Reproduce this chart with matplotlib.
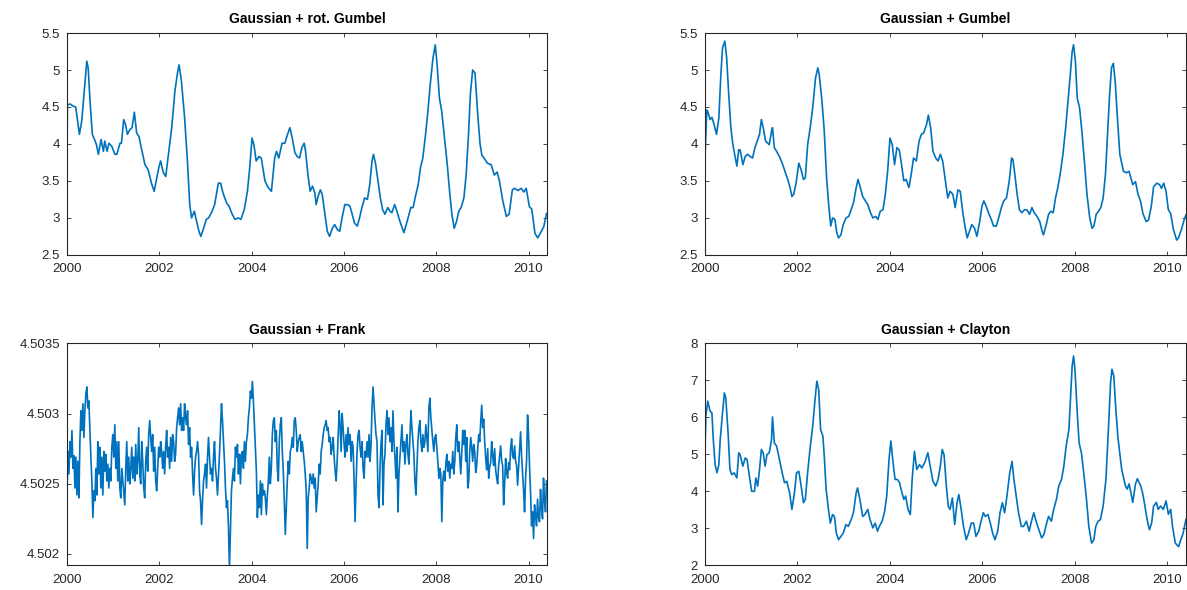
import numpy as np
import matplotlib
matplotlib.use("Agg")
import matplotlib.pyplot as plt
from matplotlib.ticker import FuncFormatter

# 读取自原图的数据 (年份, 数值)
rg_years = [2000.00, 2000.01, 2000.07, 2000.14, 2000.19, 2000.25, 2000.27, 2000.32, 2000.38, 2000.43,
            2000.46, 2000.50, 2000.55, 2000.61, 2000.64, 2000.68, 2000.74, 2000.79, 2000.82, 2000.87,
            2000.91, 2000.97, 2001.04, 2001.08, 2001.15, 2001.18, 2001.23, 2001.27, 2001.31, 2001.36,
            2001.41, 2001.46, 2001.51, 2001.56, 2001.62, 2001.69, 2001.76, 2001.83, 2001.89, 2001.94,
            2001.99, 2002.03, 2002.09, 2002.14, 2002.19, 2002.27, 2002.34, 2002.40, 2002.43, 2002.48,
            2002.55, 2002.61, 2002.66, 2002.70, 2002.76, 2002.81, 2002.86, 2002.90, 2002.95, 2003.02,
            2003.07, 2003.13, 2003.20, 2003.28, 2003.33, 2003.38, 2003.46, 2003.51, 2003.58, 2003.64,
            2003.71, 2003.77, 2003.84, 2003.91, 2003.96, 2004.01, 2004.05, 2004.10, 2004.16, 2004.21,
            2004.29, 2004.36, 2004.43, 2004.50, 2004.54, 2004.59, 2004.66, 2004.72, 2004.78, 2004.83,
            2004.88, 2004.94, 2004.99, 2005.04, 2005.09, 2005.14, 2005.17, 2005.22, 2005.27, 2005.32,
            2005.37, 2005.40, 2005.44, 2005.49, 2005.53, 2005.59, 2005.64, 2005.69, 2005.75, 2005.80,
            2005.86, 2005.91, 2005.96, 2006.02, 2006.08, 2006.13, 2006.18, 2006.23, 2006.29, 2006.34,
            2006.39, 2006.45, 2006.51, 2006.56, 2006.61, 2006.64, 2006.69, 2006.74, 2006.79, 2006.84,
            2006.89, 2006.95, 2007.00, 2007.04, 2007.10, 2007.15, 2007.20, 2007.25, 2007.30, 2007.35,
            2007.40, 2007.45, 2007.50, 2007.55, 2007.61, 2007.66, 2007.71, 2007.77, 2007.82, 2007.87,
            2007.93, 2007.98, 2008.02, 2008.07, 2008.12, 2008.18, 2008.24, 2008.29, 2008.34, 2008.39,
            2008.44, 2008.49, 2008.54, 2008.60, 2008.65, 2008.70, 2008.74, 2008.79, 2008.84, 2008.90,
            2008.95, 2008.99, 2009.11, 2009.19, 2009.26, 2009.32, 2009.37, 2009.44, 2009.52, 2009.58,
            2009.65, 2009.70, 2009.77, 2009.84, 2009.90, 2009.95, 2010.02, 2010.07, 2010.14, 2010.20,
            2010.26, 2010.33, 2010.39]
rg_values = [3.72, 4.53, 4.54, 4.51, 4.50, 4.22, 4.13, 4.31, 4.76, 5.12,
             5.03, 4.58, 4.13, 4.04, 3.99, 3.86, 4.06, 3.90, 4.04, 3.90,
             4.01, 3.97, 3.86, 3.86, 4.01, 4.01, 4.33, 4.26, 4.13, 4.19,
             4.22, 4.43, 4.15, 4.10, 3.92, 3.72, 3.65, 3.47, 3.36, 3.52,
             3.68, 3.77, 3.61, 3.56, 3.81, 4.22, 4.72, 4.98, 5.07, 4.85,
             4.35, 3.77, 3.18, 3.00, 3.09, 2.95, 2.82, 2.75, 2.84, 2.98,
             3.00, 3.07, 3.18, 3.47, 3.47, 3.34, 3.20, 3.16, 3.05, 2.98,
             3.00, 2.98, 3.11, 3.36, 3.68, 4.08, 3.99, 3.77, 3.83, 3.81,
             3.50, 3.41, 3.36, 3.81, 3.90, 3.81, 4.01, 4.01, 4.13, 4.22,
             4.08, 3.88, 3.83, 3.81, 3.95, 4.01, 3.90, 3.59, 3.36, 3.43,
             3.34, 3.18, 3.29, 3.38, 3.32, 3.05, 2.82, 2.75, 2.86, 2.91,
             2.84, 2.82, 3.00, 3.18, 3.18, 3.16, 3.05, 2.93, 2.89, 3.00,
             3.14, 3.27, 3.25, 3.45, 3.77, 3.86, 3.72, 3.50, 3.27, 3.11,
             3.05, 3.14, 3.09, 3.07, 3.18, 3.09, 2.98, 2.89, 2.80, 2.91,
             3.02, 3.14, 3.14, 3.29, 3.45, 3.68, 3.81, 4.13, 4.44, 4.80,
             5.16, 5.34, 5.07, 4.62, 4.44, 4.08, 3.72, 3.36, 3.05, 2.86,
             2.95, 3.09, 3.14, 3.27, 3.59, 4.13, 4.67, 5.00, 4.96, 4.40,
             4.00, 3.85, 3.74, 3.72, 3.58, 3.62, 3.50, 3.24, 3.02, 3.05,
             3.38, 3.40, 3.37, 3.40, 3.35, 3.40, 3.15, 3.12, 2.79, 2.73,
             2.80, 2.88, 3.06]

g_years = [2000.00, 2000.04, 2000.06, 2000.11, 2000.15, 2000.19, 2000.25, 2000.30, 2000.34, 2000.38,
           2000.43, 2000.47, 2000.51, 2000.56, 2000.60, 2000.63, 2000.69, 2000.73, 2000.76, 2000.82,
           2000.87, 2000.92, 2000.98, 2001.03, 2001.08, 2001.13, 2001.18, 2001.22, 2001.26, 2001.31,
           2001.36, 2001.39, 2001.44, 2001.46, 2001.50, 2001.55, 2001.61, 2001.67, 2001.72, 2001.79,
           2001.84, 2001.88, 2001.92, 2001.97, 2002.03, 2002.08, 2002.13, 2002.17, 2002.22, 2002.28,
           2002.33, 2002.39, 2002.44, 2002.47, 2002.53, 2002.58, 2002.63, 2002.68, 2002.72, 2002.76,
           2002.81, 2002.85, 2002.89, 2002.94, 2002.99, 2003.05, 2003.11, 2003.16, 2003.21, 2003.27,
           2003.31, 2003.36, 2003.41, 2003.47, 2003.52, 2003.58, 2003.63, 2003.69, 2003.74, 2003.79,
           2003.85, 2003.90, 2003.95, 2004.00, 2004.05, 2004.10, 2004.15, 2004.20, 2004.24, 2004.30,
           2004.35, 2004.41, 2004.46, 2004.51, 2004.57, 2004.63, 2004.68, 2004.73, 2004.79, 2004.83,
           2004.88, 2004.93, 2004.99, 2005.04, 2005.09, 2005.14, 2005.19, 2005.25, 2005.30, 2005.36,
           2005.41, 2005.47, 2005.52, 2005.58, 2005.63, 2005.67, 2005.72, 2005.77, 2005.83, 2005.88,
           2005.94, 2005.99, 2006.03, 2006.08, 2006.13, 2006.19, 2006.24, 2006.30, 2006.35, 2006.41,
           2006.46, 2006.52, 2006.58, 2006.63, 2006.66, 2006.70, 2006.75, 2006.80, 2006.85, 2006.91,
           2006.96, 2007.02, 2007.07, 2007.12, 2007.18, 2007.24, 2007.29, 2007.32, 2007.38, 2007.43,
           2007.48, 2007.53, 2007.58, 2007.63, 2007.69, 2007.74, 2007.80, 2007.85, 2007.90, 2007.94,
           2007.97, 2008.01, 2008.05, 2008.10, 2008.15, 2008.21, 2008.26, 2008.32, 2008.37, 2008.41,
           2008.46, 2008.51, 2008.56, 2008.61, 2008.66, 2008.70, 2008.75, 2008.79, 2008.83, 2008.87,
           2008.91, 2008.97, 2009.05, 2009.11, 2009.17, 2009.21, 2009.25, 2009.31, 2009.36, 2009.42,
           2009.47, 2009.54, 2009.59, 2009.65, 2009.70, 2009.77, 2009.83, 2009.87, 2009.92, 2009.97,
           2010.02, 2010.07, 2010.13, 2010.20, 2010.24, 2010.30, 2010.36, 2010.40]
g_values = [3.80, 4.46, 4.44, 4.33, 4.36, 4.28, 4.13, 4.35, 4.89, 5.30,
            5.39, 5.16, 4.71, 4.22, 4.01, 3.90, 3.70, 3.92, 3.92, 3.72,
            3.83, 3.86, 3.83, 3.81, 3.95, 4.04, 4.13, 4.33, 4.22, 4.04,
            4.01, 3.99, 4.17, 4.22, 3.95, 3.90, 3.83, 3.74, 3.65, 3.52,
            3.41, 3.29, 3.32, 3.47, 3.74, 3.65, 3.52, 3.54, 3.99, 4.24,
            4.49, 4.89, 5.03, 4.94, 4.58, 4.17, 3.54, 3.14, 2.89, 3.00,
            2.98, 2.80, 2.73, 2.77, 2.91, 3.00, 3.02, 3.11, 3.20, 3.41,
            3.52, 3.41, 3.29, 3.23, 3.18, 3.07, 3.00, 3.02, 2.98, 3.09,
            3.11, 3.32, 3.63, 4.08, 3.99, 3.72, 3.95, 3.92, 3.77, 3.50,
            3.52, 3.41, 3.59, 3.81, 3.77, 4.04, 4.13, 4.15, 4.26, 4.39,
            4.22, 3.90, 3.81, 3.77, 3.86, 3.77, 3.54, 3.27, 3.36, 3.32,
            3.14, 3.38, 3.36, 3.05, 2.86, 2.73, 2.82, 2.91, 2.86, 2.75,
            2.95, 3.16, 3.23, 3.16, 3.07, 2.98, 2.89, 2.89, 3.00, 3.14,
            3.23, 3.27, 3.50, 3.81, 3.79, 3.59, 3.32, 3.11, 3.07, 3.11,
            3.11, 3.05, 3.14, 3.07, 3.02, 2.95, 2.82, 2.77, 2.91, 3.05,
            3.09, 3.07, 3.27, 3.41, 3.63, 3.86, 4.22, 4.58, 4.94, 5.25,
            5.34, 5.12, 4.62, 4.49, 4.17, 3.72, 3.32, 3.00, 2.86, 2.89,
            3.05, 3.09, 3.14, 3.27, 3.59, 4.08, 4.67, 5.03, 5.09, 4.85,
            4.44, 3.86, 3.63, 3.61, 3.63, 3.54, 3.45, 3.49, 3.33, 3.22,
            3.06, 2.95, 2.97, 3.15, 3.42, 3.47, 3.45, 3.40, 3.47, 3.36,
            3.11, 3.06, 2.84, 2.70, 2.73, 2.84, 2.97, 3.04]

c_years = [2000.00, 2000.02, 2000.06, 2000.11, 2000.15, 2000.18, 2000.22, 2000.26, 2000.30, 2000.33,
           2000.38, 2000.42, 2000.45, 2000.50, 2000.54, 2000.58, 2000.63, 2000.69, 2000.73, 2000.76,
           2000.82, 2000.87, 2000.91, 2000.96, 2001.01, 2001.07, 2001.10, 2001.14, 2001.18, 2001.22,
           2001.26, 2001.30, 2001.34, 2001.39, 2001.44, 2001.46, 2001.50, 2001.55, 2001.61, 2001.67,
           2001.72, 2001.77, 2001.83, 2001.88, 2001.93, 2001.98, 2002.03, 2002.08, 2002.13, 2002.17,
           2002.22, 2002.27, 2002.33, 2002.38, 2002.42, 2002.46, 2002.50, 2002.55, 2002.58, 2002.62,
           2002.67, 2002.71, 2002.76, 2002.80, 2002.84, 2002.89, 2002.94, 2002.99, 2003.05, 2003.10,
           2003.16, 2003.21, 2003.27, 2003.30, 2003.35, 2003.41, 2003.46, 2003.52, 2003.57, 2003.63,
           2003.68, 2003.73, 2003.77, 2003.83, 2003.88, 2003.93, 2003.98, 2004.02, 2004.06, 2004.11,
           2004.16, 2004.21, 2004.24, 2004.30, 2004.34, 2004.39, 2004.44, 2004.48, 2004.53, 2004.58,
           2004.64, 2004.69, 2004.75, 2004.82, 2004.87, 2004.93, 2004.99, 2005.04, 2005.09, 2005.13,
           2005.17, 2005.22, 2005.26, 2005.30, 2005.35, 2005.40, 2005.45, 2005.49, 2005.54, 2005.59,
           2005.65, 2005.70, 2005.76, 2005.81, 2005.86, 2005.92, 2005.97, 2006.02, 2006.06, 2006.12,
           2006.17, 2006.22, 2006.27, 2006.33, 2006.38, 2006.43, 2006.48, 2006.53, 2006.59, 2006.64,
           2006.68, 2006.73, 2006.78, 2006.84, 2006.89, 2006.95, 2007.01, 2007.06, 2007.11, 2007.16,
           2007.22, 2007.28, 2007.33, 2007.38, 2007.43, 2007.49, 2007.54, 2007.60, 2007.65, 2007.71,
           2007.76, 2007.81, 2007.87, 2007.91, 2007.94, 2007.97, 2008.00, 2008.05, 2008.09, 2008.14,
           2008.19, 2008.25, 2008.30, 2008.36, 2008.41, 2008.45, 2008.50, 2008.55, 2008.61, 2008.67,
           2008.72, 2008.77, 2008.80, 2008.84, 2008.88, 2008.93, 2009.01, 2009.09, 2009.13, 2009.17,
           2009.21, 2009.25, 2009.31, 2009.35, 2009.42, 2009.46, 2009.50, 2009.56, 2009.61, 2009.66,
           2009.70, 2009.76, 2009.80, 2009.85, 2009.91, 2009.97, 2010.02, 2010.07, 2010.11, 2010.17,
           2010.24, 2010.29, 2010.34, 2010.40]
c_values = [5.04, 6.03, 6.44, 6.17, 6.12, 5.40, 4.72, 4.50, 4.72, 5.40,
            6.12, 6.66, 6.53, 5.58, 4.59, 4.45, 4.50, 4.36, 5.04, 4.99,
            4.68, 4.90, 4.86, 4.41, 4.00, 4.00, 4.36, 4.14, 4.59, 5.13,
            5.04, 4.68, 4.99, 5.04, 5.40, 6.01, 5.31, 5.22, 4.86, 4.50,
            4.23, 4.27, 3.96, 3.51, 3.91, 4.50, 4.54, 4.14, 3.69, 3.78,
            4.50, 5.13, 5.76, 6.48, 6.98, 6.75, 5.67, 5.49, 4.95, 4.05,
            3.51, 3.14, 3.37, 3.32, 2.87, 2.69, 2.78, 2.87, 3.10, 3.05,
            3.23, 3.42, 3.96, 4.09, 3.78, 3.32, 3.37, 3.51, 3.23, 3.01,
            3.14, 2.92, 3.05, 3.19, 3.42, 3.87, 4.86, 5.36, 4.86, 4.32,
            4.32, 4.23, 4.05, 3.78, 3.87, 3.51, 3.37, 4.32, 5.08, 4.59,
            4.72, 4.63, 4.77, 5.04, 4.68, 4.27, 4.14, 4.32, 4.68, 5.13,
            4.99, 4.14, 3.60, 3.51, 3.82, 3.10, 3.69, 3.91, 3.51, 3.05,
            2.69, 2.87, 3.14, 3.14, 2.78, 2.92, 3.19, 3.42, 3.32, 3.37,
            3.14, 2.87, 2.69, 2.92, 3.42, 3.69, 3.42, 3.87, 4.50, 4.81,
            4.32, 3.87, 3.42, 3.05, 3.05, 3.19, 2.92, 3.19, 3.42, 3.19,
            2.96, 2.74, 2.83, 3.10, 3.32, 3.19, 3.51, 3.78, 4.14, 4.32,
            4.68, 5.22, 5.67, 6.66, 7.39, 7.66, 7.30, 6.12, 5.31, 5.04,
            4.50, 3.78, 3.05, 2.60, 2.69, 3.05, 3.19, 3.23, 3.60, 4.32,
            5.58, 6.93, 7.30, 7.12, 6.30, 5.45, 4.60, 4.15, 4.06, 4.20,
            3.97, 3.70, 4.20, 4.34, 4.15, 3.97, 3.70, 3.24, 2.96, 3.15,
            3.60, 3.70, 3.51, 3.60, 3.51, 3.74, 3.38, 3.51, 3.05, 2.60,
            2.50, 2.69, 2.87, 3.24]

# Frank 序列: 等间隔数据 (2000.0 - 2010.39)
frank_values = [
    4.50242, 4.50273, 4.50257, 4.50280, 4.50269, 4.50288, 4.50261, 4.50270, 4.50247, 4.50269,
    4.50242, 4.50266, 4.50240, 4.50280, 4.50302, 4.50288, 4.50307, 4.50283, 4.50302, 4.50314,
    4.50319, 4.50304, 4.50309, 4.50288, 4.50269, 4.50252, 4.50226, 4.50245, 4.50238, 4.50261,
    4.50242, 4.50280, 4.50257, 4.50276, 4.50247, 4.50269, 4.50242, 4.50273, 4.50259, 4.50271,
    4.50252, 4.50264, 4.50247, 4.50261, 4.50252, 4.50276, 4.50285, 4.50269, 4.50292, 4.50261,
    4.50280, 4.50252, 4.50280, 4.50247, 4.50240, 4.50261, 4.50252, 4.50242, 4.50235, 4.50261,
    4.50280, 4.50252, 4.50269, 4.50250, 4.50261, 4.50276, 4.50254, 4.50269, 4.50252, 4.50278,
    4.50257, 4.50266, 4.50290, 4.50257, 4.50250, 4.50280, 4.50266, 4.50247, 4.50240, 4.50266,
    4.50276, 4.50259, 4.50285, 4.50295, 4.50283, 4.50273, 4.50285, 4.50259, 4.50276, 4.50252,
    4.50245, 4.50261, 4.50276, 4.50269, 4.50280, 4.50273, 4.50261, 4.50273, 4.50257, 4.50276,
    4.50288, 4.50269, 4.50276, 4.50261, 4.50283, 4.50266, 4.50285, 4.50280, 4.50266, 4.50271,
    4.50290, 4.50297, 4.50304, 4.50292, 4.50307, 4.50288, 4.50297, 4.50288, 4.50307, 4.50297,
    4.50292, 4.50302, 4.50278, 4.50290, 4.50269, 4.50276, 4.50257, 4.50242, 4.50259, 4.50269,
    4.50273, 4.50280, 4.50271, 4.50245, 4.50238, 4.50221, 4.50238, 4.50252, 4.50257, 4.50264,
    4.50247, 4.50269, 4.50283, 4.50269, 4.50257, 4.50261, 4.50252, 4.50269, 4.50280, 4.50261,
    4.50254, 4.50242, 4.50257, 4.50271, 4.50290, 4.50307, 4.50295, 4.50280, 4.50266, 4.50247,
    4.50233, 4.50238, 4.50219, 4.50190, 4.50219, 4.50245, 4.50254, 4.50261, 4.50252, 4.50276,
    4.50269, 4.50278, 4.50257, 4.50271, 4.50250, 4.50271, 4.50273, 4.50261, 4.50280, 4.50266,
    4.50280, 4.50285, 4.50297, 4.50304, 4.50316, 4.50311, 4.50323, 4.50309, 4.50292, 4.50276,
    4.50259, 4.50226, 4.50242, 4.50233, 4.50252, 4.50228, 4.50250, 4.50242,
    4.50245, 4.50240, 4.50228, 4.50242, 4.50252, 4.50269, 4.50250, 4.50261, 4.50285, 4.50295,
    4.50297, 4.50280, 4.50288, 4.50261, 4.50252, 4.50280, 4.50292, 4.50297, 4.50273, 4.50259,
    4.50238, 4.50214, 4.50233, 4.50252, 4.50266, 4.50257, 4.50273, 4.50276, 4.50283, 4.50276,
    4.50295, 4.50297, 4.50288, 4.50273, 4.50280, 4.50283, 4.50285, 4.50273, 4.50280, 4.50273,
    4.50266, 4.50257, 4.50245, 4.50204, 4.50240, 4.50247, 4.50257, 4.50254, 4.50250, 4.50257,
    4.50247, 4.50254, 4.50230, 4.50240, 4.50250, 4.50264, 4.50257, 4.50273, 4.50278, 4.50285,
    4.50290, 4.50292, 4.50295, 4.50288, 4.50290, 4.50280, 4.50283, 4.50271, 4.50276, 4.50283,
    4.50269, 4.50259, 4.50252, 4.50266, 4.50283, 4.50302, 4.50292, 4.50273, 4.50300, 4.50290,
    4.50278, 4.50269, 4.50285, 4.50273, 4.50290, 4.50278, 4.50285, 4.50266, 4.50280, 4.50276,
    4.50252, 4.50223, 4.50250, 4.50273, 4.50285, 4.50288, 4.50276, 4.50269, 4.50280, 4.50261,
    4.50254, 4.50273, 4.50269, 4.50280, 4.50269, 4.50285, 4.50266, 4.50278, 4.50304, 4.50319,
    4.50307, 4.50295, 4.50285, 4.50280, 4.50242, 4.50233, 4.50261, 4.50278, 4.50288, 4.50235,
    4.50264, 4.50271, 4.50292, 4.50302, 4.50285, 4.50297, 4.50280, 4.50290, 4.50273, 4.50302,
    4.50280, 4.50269, 4.50254, 4.50276, 4.50230, 4.50257, 4.50269, 4.50280, 4.50292, 4.50273,
    4.50280, 4.50264, 4.50278, 4.50285, 4.50271, 4.50264, 4.50283, 4.50302, 4.50290, 4.50280,
    4.50271, 4.50252, 4.50242, 4.50261, 4.50280, 4.50290, 4.50295, 4.50280, 4.50273, 4.50285,
    4.50276, 4.50280, 4.50292, 4.50283, 4.50273, 4.50304, 4.50311, 4.50297, 4.50288, 4.50280,
    4.50273, 4.50283, 4.50285, 4.50276, 4.50266, 4.50254, 4.50261, 4.50257, 4.50223, 4.50252,
    4.50259, 4.50252, 4.50264, 4.50271, 4.50259, 4.50266, 4.50254, 4.50264, 4.50261, 4.50273,
    4.50257, 4.50266, 4.50283, 4.50292, 4.50273, 4.50280, 4.50269, 4.50257, 4.50273, 4.50288,
    4.50278, 4.50288, 4.50266, 4.50283, 4.50247, 4.50252, 4.50273, 4.50283, 4.50276, 4.50266,
    4.50278,
    4.50273, 4.50258, 4.50263, 4.50275, 4.50285, 4.50280, 4.50294, 4.50306, 4.50290, 4.50296,
    4.50280, 4.50268, 4.50260, 4.50275, 4.50254, 4.50262, 4.50265, 4.50280, 4.50270, 4.50263,
    4.50275, 4.50260, 4.50254, 4.50250, 4.50263, 4.50270, 4.50277, 4.50266, 4.50263, 4.50235,
    4.50250, 4.50268, 4.50258, 4.50254, 4.50265, 4.50260, 4.50275, 4.50282, 4.50270, 4.50268,
    4.50277, 4.50266, 4.50263, 4.50249, 4.50262, 4.50275, 4.50287, 4.50270, 4.50258, 4.50245,
    4.50230, 4.50254, 4.50266, 4.50299, 4.50285, 4.50262, 4.50244, 4.50220, 4.50230, 4.50211,
    4.50235, 4.50228, 4.50220, 4.50239, 4.50226, 4.50223, 4.50246, 4.50232, 4.50225, 4.50254,
    4.50238, 4.50230, 4.50252]
frank_start, frank_end = 2000.0, 2010.39

titles = ["Gaussian + rot. Gumbel", "Gaussian + Gumbel", "Gaussian + Frank", "Gaussian + Clayton"]
ylims = [(2.5, 5.5), (2.5, 5.5), (4.50192, 4.5035), (2, 8)]
yticks = [np.arange(2.5, 5.51, 0.5), np.arange(2.5, 5.51, 0.5),
          [4.502, 4.5025, 4.503, 4.5035], np.arange(2, 8.1, 1)]
xticks = [2000, 2002, 2004, 2006, 2008, 2010]

plt.rcParams['font.family'] = ['Liberation Sans', 'DejaVu Sans']
line_color = '#0072BD'
axis_color = '#262626'

frank_years = np.linspace(frank_start, frank_end, len(frank_values))
series = [(rg_years, rg_values), (g_years, g_values),
          (frank_years, frank_values), (c_years, c_values)]

fig = plt.figure(figsize=(11.87, 5.90), dpi=100)
positions = [
    [0.0564, 0.568, 0.4044, 0.376],
    [0.5939, 0.568, 0.4052, 0.376],
    [0.0564, 0.042, 0.4044, 0.376],
    [0.5939, 0.042, 0.4052, 0.376],
]

for i in range(4):
    ax = fig.add_axes(positions[i])
    x, y = series[i]
    lw = 1.2 if i == 2 else 1.2
    ax.plot(x, y, color=line_color, linewidth=lw)
    ax.set_xlim(2000, 2010.4)
    ax.set_ylim(*ylims[i])
    ax.set_xticks(xticks)
    ax.set_yticks(yticks[i])
    ax.yaxis.set_major_formatter(FuncFormatter(lambda v, p: '%g' % round(v, 6)))
    ax.tick_params(direction='in', top=True, right=True, length=3, width=0.6,
                   colors=axis_color, labelsize=9.5)
    ax.tick_params(axis='x', pad=6)
    ax.tick_params(axis='y', pad=5)
    for s in ax.spines.values():
        s.set_color(axis_color)
        s.set_linewidth(0.8)
    ax.set_title(titles[i], fontsize=10, fontweight='bold', color='black', pad=7)

plt.savefig('out.png', dpi=100)
plt.close()
